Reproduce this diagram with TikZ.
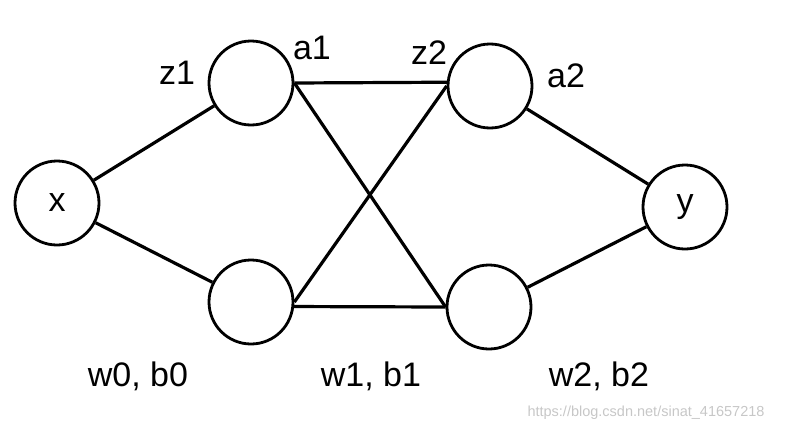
\documentclass[tikz,border=0pt]{standalone}
\usepackage{fontspec}
\setmainfont{Liberation Sans}
\usetikzlibrary{positioning}

\begin{document}
\begin{tikzpicture}[
    x=1pt, y=-1pt,
    neuron/.style={circle, draw, line width=2.8pt, minimum size=84pt, inner sep=0pt, font=\fontsize{34}{38}\selectfont},
    link/.style={line width=3.2pt},
    layer label/.style={draw=none, font=\fontsize{34}{38}\selectfont},
  ]
  \useasboundingbox (0,0) rectangle (789,431);

  % Nodes
  \node[neuron] (x)  at (57, 203)  {x};
  \node[neuron] (h1) at (251, 83)  {};
  \node[neuron] (h2) at (251, 302) {};
  \node[neuron] (o1) at (490, 86)  {};
  \node[neuron] (o2) at (489, 307) {};
  \node[neuron] (y)  at (685, 207) {y};

  % Edges
  \draw[link] (x) -- (h1);
  \draw[link] (x) -- (h2);
  \draw[link] (h1.east) -- (o1.175);
  \draw[link] (h1.east) -- (o2.west);
  \draw[link] (h2.east) -- (o1.west);
  \draw[link] (h2.-6) -- (o2.west);
  \draw[link] (o1) -- (y);
  \draw[link] (o2) -- (y);

  % Labels
  \node[layer label] (z1) at (177, 73) {z1};
  \node[layer label] (a1) at (312, 48) {a1};
  \node[layer label] (z2) at (429, 53) {z2};
  \node[layer label] (a2) at (566, 76) {a2};

  \node[layer label] (wb0) at (138, 376) {w0, b0};
  \node[layer label] (wb1) at (371, 376) {w1, b1};
  \node[layer label] (wb2) at (599, 376) {w2, b2};

  \node[draw=none, text=black!22, font=\fontsize{14.5}{16}\selectfont] (url) at (646, 413) {https://blog.csdn.net/sinat\_41657218};
\end{tikzpicture}
\end{document}
